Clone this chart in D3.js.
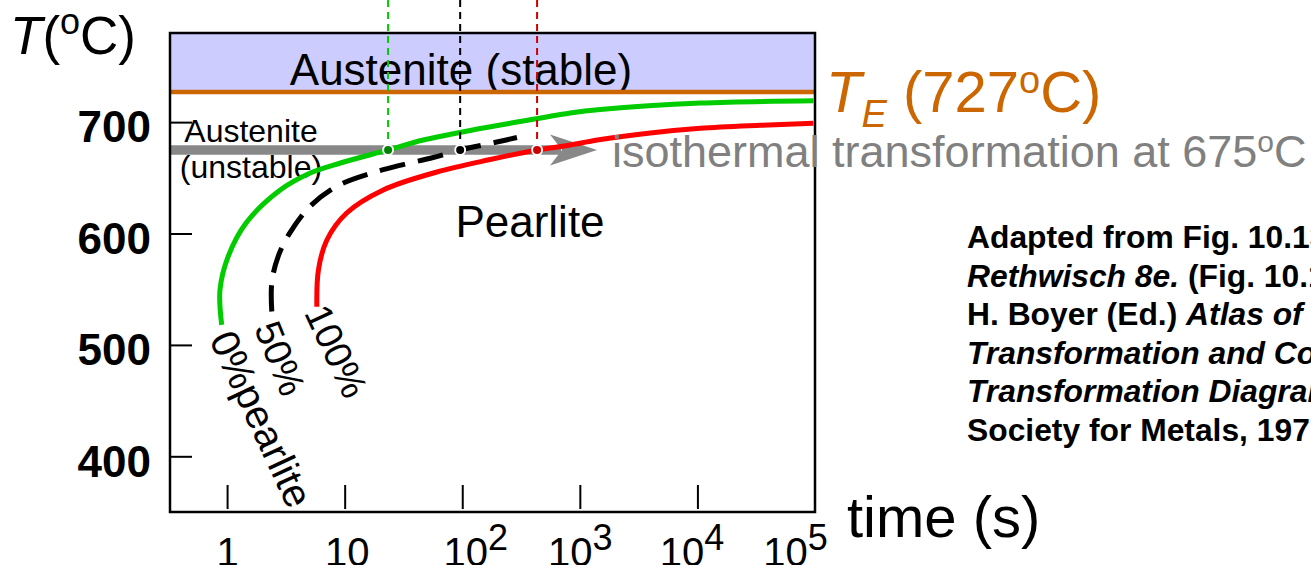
<!DOCTYPE html>
<html>
<head>
<meta charset="utf-8">
<script src="https://cdn.jsdelivr.net/npm/d3@7"></script>
<style>
  html, body { margin: 0; padding: 0; background: #fff; overflow: hidden; }
  svg { display: block; font-family: "Liberation Sans", Arial, sans-serif; }
</style>
</head>
<body>
<svg id="chart" width="1311" height="565"></svg>
<script>
// ---- Isothermal transformation (TTT) diagram for eutectoid Fe-C ----
// temperatures in °C, times in seconds

const eutectoidTemp = 727;
const isothermTemp = 675;
const isothermEndTime = 1400;

const tempTicks = [400, 500, 600, 700];
const timeTicks = [1, 10, 100, 1e3, 1e4, 1e5];
const timeTickBase = ["1", "10", "10", "10", "10", "10"];
const timeTickPower = ["", "", "2", "3", "4", "5"];

// [time, temperature] along each transformation curve
const pearlite0 = [
  [0.90, 518], [0.87, 549.3], [1.02, 579.2], [1.45, 609.4], [2.83, 639],
  [5.1, 654.3], [9.2, 663.3], [23.4, 675], [46.6, 683.9], [117, 692.5],
  [312, 700.5], [830, 708.2], [1490, 711.3], [10600, 717.1], [97000, 719.2]
];
const pearlite50 = [
  [2.40, 530], [2.40, 556], [2.73, 580], [3.44, 601], [5.09, 624.5],
  [8.6, 642.5], [16.5, 653.9], [31.5, 661.9], [56.6, 668.2], [96, 675],
  [197, 682.1], [292, 686.2]
];
const pearlite100 = [
  [5.8, 534.3], [5.98, 567.2], [7.06, 594.2], [10.4, 618.4], [21.3, 639.1],
  [61, 655.2], [173, 666.4], [433, 675], [830, 679.4], [1410, 683.9],
  [3980, 690.2], [10600, 694.4], [34400, 697.1], [97000, 698.9]
];
const curveLabels = ["0%pearlite", "50%", "100%"];
// time at which each curve meets the 675 °C isotherm
const crossingTimes = [23.4, 96, 433];

const sourceLines = [
  [["Adapted from Fig. 10.13, Callister &", false]],
  [["Rethwisch 8e.", true], [" (Fig. 10.13 adapted from", false]],
  [["H. Boyer (Ed.) ", false], ["Atlas of Isothermal", true]],
  [["Transformation and Cooling", true]],
  [["Transformation Diagrams", true], [", American", false]],
  [["Society for Metals, 1977, p. 369.)", false]]
];

// ---- layout & styling ----
const plot = { left: 170, right: 815, top: 33, bottom: 512 };
const FONT = '"Liberation Sans", Arial, sans-serif';
const curveColors = ["#00cc00", "#000000", "#ff0000"];
const dotColors = ["#008000", "#000000", "#cc0000"];
const guideColors = ["#00cc00", "#000000", "#cc0000"];
const labelAngles = [65, 68, 65];
const labelSizes = [40, 38, 38];
const labelOffsets = [[-13, 14.5], [-18, 16.5], [-13, 6]];
const xLabelNudge = [0, 2, 13, 0, -6, -20];

const svg = d3.select("#chart");

const x = d3.scaleLog().domain([0.327, 1e5]).range([plot.left, plot.right]);
const y = d3.scaleLinear().domain([350, 780]).range([plot.bottom, plot.top]);

// stable austenite band above the eutectoid temperature
svg.append("rect")
  .attr("x", plot.left).attr("y", plot.top)
  .attr("width", plot.right - plot.left)
  .attr("height", y(eutectoidTemp) - plot.top)
  .attr("fill", "#ccccff");

svg.append("text")
  .attr("x", 461).attr("y", 85)
  .attr("text-anchor", "middle")
  .attr("font-size", 44)
  .text("Austenite (stable)");

// eutectoid line
svg.append("line")
  .attr("x1", plot.left).attr("x2", plot.right)
  .attr("y1", y(eutectoidTemp)).attr("y2", y(eutectoidTemp))
  .attr("stroke", "#cc6600").attr("stroke-width", 4.5);

// region labels
const unstable = svg.append("text")
  .attr("text-anchor", "middle").attr("font-size", 32);
unstable.append("tspan").attr("x", 251).attr("y", 141.5).text("Austenite");
unstable.append("tspan").attr("x", 251).attr("y", 178).text("(unstable)");

svg.append("text")
  .attr("x", 530).attr("y", 237)
  .attr("text-anchor", "middle").attr("font-size", 44)
  .text("Pearlite");

// isothermal path with arrow
const yIso = y(isothermTemp);
const tipX = x(isothermEndTime);
svg.append("line")
  .attr("x1", plot.left).attr("x2", tipX - 36)
  .attr("y1", yIso).attr("y2", yIso)
  .attr("stroke", "#888888").attr("stroke-width", 9.5);
svg.append("path")
  .attr("d", `M${tipX},${yIso} L${tipX - 47},${yIso - 15.5} L${tipX - 35},${yIso} L${tipX - 47},${yIso + 15.5} Z`)
  .attr("fill", "#888888");

// transformation curves
const line = d3.line()
  .x(d => x(d[0])).y(d => y(d[1]))
  .curve(d3.curveCatmullRom.alpha(0.5));

[pearlite0, pearlite50, pearlite100].forEach((pts, i) => {
  svg.append("path")
    .datum(pts)
    .attr("d", line)
    .attr("fill", "none")
    .attr("stroke", curveColors[i])
    .attr("stroke-width", 5)
    .attr("stroke-dasharray", i === 1 ? "26,13" : null);

  const p0 = pts[0];
  const lx = x(p0[0]) + labelOffsets[i][0];
  const ly = y(p0[1]) + labelOffsets[i][1];
  svg.append("text")
    .attr("transform", `translate(${lx},${ly}) rotate(${labelAngles[i]})`)
    .attr("font-size", labelSizes[i])
    .text(curveLabels[i]);
});

// plot frame
svg.append("rect")
  .attr("x", plot.left).attr("y", plot.top)
  .attr("width", plot.right - plot.left)
  .attr("height", plot.bottom - plot.top)
  .attr("fill", "none").attr("stroke", "#000").attr("stroke-width", 2.5);

// temperature axis
const yAxisG = svg.append("g")
  .attr("transform", `translate(${plot.left},0)`)
  .call(d3.axisLeft(y).tickValues(tempTicks).tickSize(-22).tickPadding(19));
yAxisG.select(".domain").remove();
yAxisG.attr("font-family", FONT).attr("font-size", 44).attr("font-weight", "bold");
yAxisG.selectAll("line").attr("stroke", "#000").attr("stroke-width", 2);
yAxisG.selectAll("text").attr("fill", "#000").attr("dy", "0.45em");

// time axis
const xAxisG = svg.append("g")
  .attr("transform", `translate(0,${plot.bottom})`)
  .call(d3.axisBottom(x).tickValues(timeTicks).tickSize(-27).tickFormat(""));
xAxisG.select(".domain").remove();
xAxisG.attr("font-family", FONT).attr("font-size", 40).attr("font-weight", "normal");
xAxisG.selectAll(".tick line")
  .attr("y1", -3).attr("y2", -27)
  .attr("stroke", "#000").attr("stroke-width", 2)
  .attr("display", d => d >= 1e5 ? "none" : null);
xAxisG.selectAll(".tick text").each(function (d, i) {
  const t = d3.select(this)
    .attr("y", 54).attr("dy", null).attr("x", xLabelNudge[i])
    .attr("fill", "#000").text(null);
  t.append("tspan").text(timeTickBase[i]);
  if (timeTickPower[i]) {
    t.append("tspan").attr("dy", -16).attr("font-size", 36).text(timeTickPower[i]);
  }
});

// dashed guides from the top down to the isotherm crossings
crossingTimes.forEach((t, i) => {
  svg.append("line")
    .attr("x1", x(t)).attr("x2", x(t))
    .attr("y1", 0).attr("y2", yIso)
    .attr("stroke", guideColors[i]).attr("stroke-width", 2)
    .attr("stroke-dasharray", "7,5");
});
crossingTimes.forEach((t, i) => {
  svg.append("circle")
    .attr("cx", x(t)).attr("cy", yIso).attr("r", 5)
    .attr("fill", dotColors[i])
    .attr("stroke", "#fff").attr("stroke-width", 2);
});

// axis titles
const tTitle = svg.append("text").attr("x", 10).attr("y", 54).attr("font-size", 53);
tTitle.append("tspan").attr("font-style", "italic").text("T");
tTitle.append("tspan").text("(");
tTitle.append("tspan").attr("font-size", 36).attr("dy", -20).text("o");
tTitle.append("tspan").attr("dy", 20).text("C)");

svg.append("text")
  .attr("x", 847).attr("y", 537)
  .attr("font-size", 58)
  .text("time (s)");

// eutectoid temperature label
const te = svg.append("text")
  .attr("x", 826).attr("y", 111.5)
  .attr("font-size", 58).attr("fill", "#cc6600");
te.append("tspan").attr("font-style", "italic").text("T");
te.append("tspan").attr("font-style", "italic").attr("font-size", 38).attr("dy", 15).text("E");
te.append("tspan").attr("dy", -15).text(" (727");
te.append("tspan").attr("font-size", 38).attr("dy", -19).text("o");
te.append("tspan").attr("dy", 19).text("C)");

// isotherm label
const iso = svg.append("text")
  .attr("x", 612).attr("y", 166.5)
  .attr("font-size", 45).attr("fill", "#808080");
iso.append("tspan").text("isothermal transformation at 675");
iso.append("tspan").attr("font-size", 30).attr("dy", -15).text("o");
iso.append("tspan").attr("dy", 15).text("C");

// source note
const note = svg.append("text")
  .attr("font-size", 31.8).attr("font-weight", "bold");
sourceLines.forEach((parts, i) => {
  parts.forEach((p, j) => {
    const ts = note.append("tspan")
      .attr("font-style", p[1] ? "italic" : "normal")
      .text(p[0]);
    if (j === 0) ts.attr("x", 967).attr("y", 248 + i * 38.6);
  });
});
</script>
</body>
</html>
